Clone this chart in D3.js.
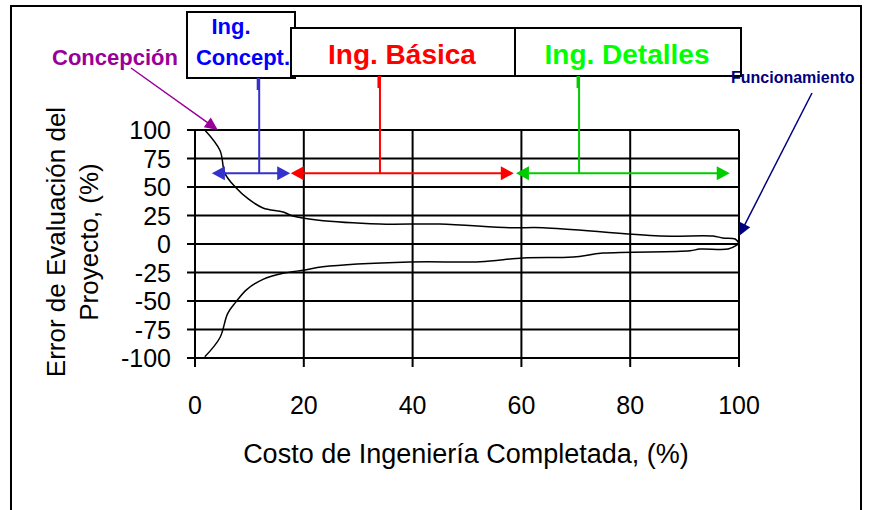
<!DOCTYPE html>
<html>
<head>
<meta charset="utf-8">
<script src="https://cdn.jsdelivr.net/npm/d3@7"></script>
<style>
  body { margin: 0; background: #fff; }
  svg text { font-family: "Liberation Sans", Arial, sans-serif; }
</style>
</head>
<body>
<svg id="chart" width="876" height="510"></svg>
<script>
// upper and lower bounds of the estimate error
var upperX = [1.8, 4.6, 5.5, 7.4, 9.8, 12.5, 16.2, 18, 22.4, 34, 45, 57.9, 64, 85.5, 95.2, 97, 99.3, 100];
var upperY = [100, 82, 62, 50, 39.5, 31.6, 28, 24.5, 21, 17.5, 17.5, 14.3, 14.3, 7, 7, 5.3, 4.4, 0.6];
var lowerX = [1.8, 4.6, 6, 7.5, 9.5, 12.5, 16.2, 20.2, 23.5, 39.5, 52.4, 60.3, 69.5, 75, 91, 92.8, 98, 99.6];
var lowerY = [-99, -82, -61, -51, -40, -31, -25.7, -22.8, -20, -15.8, -15.5, -12.3, -11.4, -8, -6, -4.4, -4.4, -1];

var xTicks = [0, 20, 40, 60, 80, 100];
var yTicks = [100, 75, 50, 25, 0, -25, -50, -75, -100];

// phases: arrow span and stem position on the x axis
var phaseNames = ["Ing. Concept.", "Ing. Básica", "Ing. Detalles"];
var phaseStart = [3.1, 17.6, 59];
var phaseEnd = [17.5, 58.6, 98.3];
var phaseStem = [11.8, 34, 70.6];
var phaseArrowY = 62;

var svg = d3.select('#chart');

var x = d3.scaleLinear().domain([0, 100]).range([195, 739]);
var y = d3.scaleLinear().domain([-100, 100]).range([358, 130]);

// outer frame
svg.append('rect')
    .attr('x', 11).attr('y', 6).attr('width', 850).attr('height', 520)
    .attr('fill', 'none').attr('stroke', '#000').attr('stroke-width', 2);

// grid
svg.selectAll('.hgrid').data(yTicks).enter().append('line')
    .attr('x1', x(0) - 8).attr('x2', x(100))
    .attr('y1', function (d) { return y(d); }).attr('y2', function (d) { return y(d); })
    .attr('stroke', '#000').attr('stroke-width', 2);
svg.selectAll('.vgrid').data(xTicks).enter().append('line')
    .attr('x1', function (d) { return x(d); }).attr('x2', function (d) { return x(d); })
    .attr('y1', y(100)).attr('y2', y(-100) + 9)
    .attr('stroke', '#000').attr('stroke-width', 2);

// tick labels
svg.selectAll('.ylab').data(yTicks).enter().append('text')
    .attr('x', 171).attr('y', function (d) { return y(d) + 9; })
    .attr('text-anchor', 'end').attr('font-size', 25)
    .text(function (d) { return d; });
svg.selectAll('.xlab').data(xTicks).enter().append('text')
    .attr('x', function (d) { return x(d); }).attr('y', 414)
    .attr('text-anchor', 'middle').attr('font-size', 25)
    .text(function (d) { return d; });

// axis titles
svg.append('text')
    .attr('x', 466).attr('y', 463).attr('text-anchor', 'middle').attr('font-size', 27)
    .text('Costo de Ingeniería Completada, (%)');
var yt = svg.append('text')
    .attr('transform', 'translate(65,242) rotate(-90)')
    .attr('text-anchor', 'middle').attr('font-size', 26);
yt.append('tspan').attr('x', 0).attr('dy', 0).text('Error de Evaluación del');
yt.append('tspan').attr('x', 0).attr('dy', 33).text('Proyecto, (%)');

// curves
var line = d3.line()
    .x(function (d) { return x(d[0]); })
    .y(function (d) { return y(d[1]); })
    .curve(d3.curveCatmullRom.alpha(0.5));
var upper = d3.zip(upperX, upperY);
var lower = d3.zip(lowerX, lowerY);
svg.append('path').attr('d', line(upper)).attr('fill', 'none').attr('stroke', '#000').attr('stroke-width', 1.5);
svg.append('path').attr('d', line(lower)).attr('fill', 'none').attr('stroke', '#000').attr('stroke-width', 1.5);
svg.append('line')
    .attr('x1', x(upperX[upperX.length - 1])).attr('y1', y(upperY[upperY.length - 1]))
    .attr('x2', x(lowerX[lowerX.length - 1])).attr('y2', y(lowerY[lowerY.length - 1]))
    .attr('stroke', '#000').attr('stroke-width', 1.5);

function arrowHead(px, py, angle, color, len, half) {
    var ca = Math.cos(angle), sa = Math.sin(angle);
    var bx = px - ca * len, by = py - sa * len;
    var pts = [[px, py], [bx - sa * half, by + ca * half], [bx + sa * half, by - ca * half]];
    svg.append('polygon').attr('points', pts.map(function (p) { return p.join(','); }).join(' '))
        .attr('fill', color);
}

// phase boxes
var boxes = [
    { x: 187, y: 12, w: 108, h: 66 },
    { x: 291, y: 28, w: 224, h: 48 },
    { x: 515, y: 28, w: 226, h: 48 }
];
var textColors = ['#0000ff', '#ff0000', '#00ff00'];
var lineColors = ['#3333cc', '#ff0000', '#00cc00'];

boxes.forEach(function (b, i) {
    svg.append('rect').attr('x', b.x).attr('y', b.y).attr('width', b.w).attr('height', b.h)
        .attr('fill', '#fff').attr('stroke', '#000').attr('stroke-width', 2);
});
svg.append('text').attr('x', 231).attr('y', 34).attr('text-anchor', 'middle')
    .attr('font-size', 22).attr('font-weight', 'bold').attr('fill', textColors[0]).text('Ing.');
svg.append('text').attr('x', 243).attr('y', 65).attr('text-anchor', 'middle')
    .attr('font-size', 22).attr('font-weight', 'bold').attr('fill', textColors[0]).text('Concept.');
[1, 2].forEach(function (i) {
    svg.append('text').attr('x', boxes[i].x + boxes[i].w / 2 - 1).attr('y', 64).attr('text-anchor', 'middle')
        .attr('font-size', 28).attr('font-weight', 'bold').attr('fill', textColors[i]).text(phaseNames[i]);
});

// phase stems and double arrows
phaseNames.forEach(function (n, i) {
    var c = lineColors[i];
    var top = boxes[i].y + boxes[i].h;
    svg.append('line').attr('x1', x(phaseStem[i])).attr('x2', x(phaseStem[i]))
        .attr('y1', top).attr('y2', y(phaseArrowY)).attr('stroke', c).attr('stroke-width', 2);
    svg.append('line').attr('x1', x(phaseStem[i]) - 1).attr('x2', x(phaseStem[i]) - 1)
        .attr('y1', top).attr('y2', top + 12).attr('stroke', c).attr('stroke-width', 3);
    svg.append('line').attr('x1', x(phaseStart[i]) + 10).attr('x2', x(phaseEnd[i]) - 10)
        .attr('y1', y(phaseArrowY)).attr('y2', y(phaseArrowY)).attr('stroke', c).attr('stroke-width', 2);
    arrowHead(x(phaseStart[i]), y(phaseArrowY), Math.PI, c, 13, 7);
    arrowHead(x(phaseEnd[i]), y(phaseArrowY), 0, c, 13, 7);
});

// Concepción callout
svg.append('text').attr('x', 52).attr('y', 65)
    .attr('font-size', 22).attr('font-weight', 'bold').attr('fill', '#990099').text('Concepción');
var c1 = [131, 68], t1 = [x(4.2), y(100)];
var a1 = Math.atan2(t1[1] - c1[1], t1[0] - c1[0]);
svg.append('line').attr('x1', c1[0]).attr('y1', c1[1])
    .attr('x2', t1[0] - Math.cos(a1) * 10).attr('y2', t1[1] - Math.sin(a1) * 10)
    .attr('stroke', '#990099').attr('stroke-width', 1.5);
arrowHead(t1[0], t1[1], a1, '#990099', 13, 6);

// Funcionamiento callout
svg.append('text').attr('x', 731).attr('y', 83)
    .attr('font-size', 16).attr('font-weight', 'bold').attr('fill', '#000080').text('Funcionamiento');
var c2 = [812, 93], t2 = [x(100), y(7)];
var a2 = Math.atan2(t2[1] - c2[1], t2[0] - c2[0]);
svg.append('line').attr('x1', c2[0]).attr('y1', c2[1])
    .attr('x2', t2[0] - Math.cos(a2) * 10).attr('y2', t2[1] - Math.sin(a2) * 10)
    .attr('stroke', '#000080').attr('stroke-width', 1.5);
arrowHead(t2[0], t2[1], a2, '#000080', 13, 6);
</script>
</body>
</html>
